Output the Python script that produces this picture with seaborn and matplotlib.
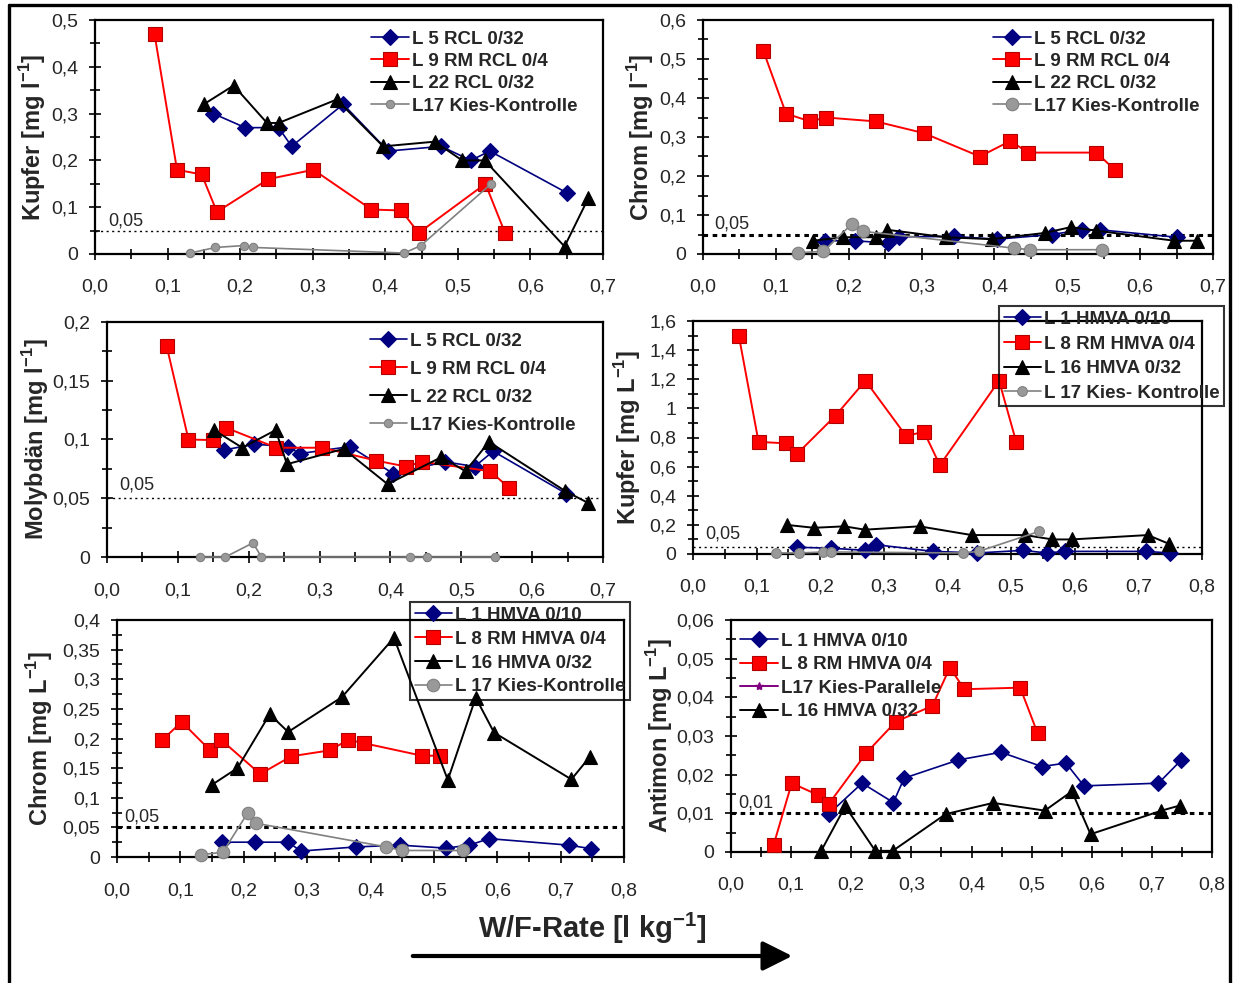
import numpy as np
import pandas as pd
import matplotlib
matplotlib.use('Agg')
import matplotlib.pyplot as plt
import matplotlib.patches as mpatches
from matplotlib.lines import Line2D
from matplotlib.ticker import MultipleLocator, FuncFormatter
import seaborn as sns

# ---- data (W/F-Rate [l/kg] vs concentration) ----
# Kupfer, RCL columns
cu_l5_x = [0.163, 0.207, 0.253, 0.271, 0.342, 0.404, 0.477, 0.518, 0.544, 0.651]
cu_l5_y = [0.30, 0.27, 0.27, 0.23, 0.32, 0.22, 0.23, 0.20, 0.22, 0.13]
cu_l9_x = [0.082, 0.113, 0.147, 0.168, 0.239, 0.301, 0.381, 0.422, 0.446, 0.538, 0.565]
cu_l9_y = [0.47, 0.18, 0.17, 0.09, 0.16, 0.18, 0.095, 0.093, 0.045, 0.15, 0.045]
cu_l22_x = [0.150, 0.191, 0.237, 0.253, 0.333, 0.397, 0.468, 0.506, 0.537, 0.647, 0.680]
cu_l22_y = [0.32, 0.36, 0.28, 0.28, 0.33, 0.23, 0.24, 0.20, 0.20, 0.016, 0.12]
cu_l17_x = [0.131, 0.166, 0.205, 0.218, 0.426, 0.449, 0.546]
cu_l17_y = [0.002, 0.014, 0.018, 0.014, 0.002, 0.018, 0.15]

# Chrom, RCL columns
cr_l5_x = [0.167, 0.208, 0.254, 0.269, 0.344, 0.404, 0.479, 0.520, 0.545, 0.650]
cr_l5_y = [0.034, 0.034, 0.028, 0.044, 0.045, 0.038, 0.050, 0.062, 0.062, 0.043]
cr_l9_x = [0.083, 0.114, 0.147, 0.169, 0.237, 0.303, 0.380, 0.422, 0.446, 0.540, 0.565]
cr_l9_y = [0.52, 0.36, 0.34, 0.35, 0.34, 0.31, 0.25, 0.29, 0.26, 0.26, 0.216]
cr_l22_x = [0.151, 0.192, 0.238, 0.253, 0.333, 0.396, 0.469, 0.505, 0.539, 0.647, 0.678]
cr_l22_y = [0.034, 0.043, 0.043, 0.062, 0.043, 0.038, 0.054, 0.069, 0.060, 0.034, 0.034]
cr_l17_x = [0.130, 0.165, 0.205, 0.220, 0.427, 0.449, 0.547]
cr_l17_y = [0.003, 0.007, 0.078, 0.058, 0.015, 0.011, 0.011]

# Molybdaen, RCL columns
mo_l5_x = [0.165, 0.208, 0.255, 0.272, 0.343, 0.404, 0.477, 0.519, 0.545, 0.648]
mo_l5_y = [0.091, 0.096, 0.094, 0.088, 0.094, 0.071, 0.081, 0.077, 0.090, 0.054]
mo_l9_x = [0.084, 0.115, 0.149, 0.168, 0.239, 0.304, 0.380, 0.422, 0.445, 0.541, 0.567]
mo_l9_y = [0.180, 0.100, 0.0995, 0.110, 0.093, 0.093, 0.082, 0.077, 0.081, 0.073, 0.059]
mo_l22_x = [0.151, 0.191, 0.238, 0.254, 0.334, 0.396, 0.472, 0.506, 0.539, 0.647, 0.679]
mo_l22_y = [0.108, 0.093, 0.108, 0.079, 0.092, 0.062, 0.085, 0.073, 0.098, 0.056, 0.046]
mo_l17_x = [0.131, 0.167, 0.206, 0.218, 0.427, 0.451, 0.547]
mo_l17_y = [0.0, 0.0, 0.012, 0.0, 0.0, 0.0, 0.0]

# Kupfer, HMVA columns
cu2_l1_x = [0.164, 0.217, 0.270, 0.287, 0.377, 0.447, 0.519, 0.556, 0.584, 0.712, 0.749]
cu2_l1_y = [0.046, 0.040, 0.025, 0.064, 0.018, 0.007, 0.025, 0.007, 0.018, 0.018, 0.007]
cu2_l8_x = [0.072, 0.103, 0.146, 0.163, 0.224, 0.271, 0.335, 0.363, 0.388, 0.481, 0.508]
cu2_l8_y = [1.50, 0.77, 0.76, 0.685, 0.95, 1.19, 0.81, 0.84, 0.61, 1.19, 0.77]
cu2_l16_x = [0.147, 0.190, 0.238, 0.270, 0.356, 0.438, 0.522, 0.565, 0.595, 0.715, 0.748]
cu2_l16_y = [0.20, 0.18, 0.19, 0.167, 0.19, 0.13, 0.13, 0.10, 0.10, 0.13, 0.07]
cu2_l17_x = [0.131, 0.167, 0.205, 0.217, 0.425, 0.449, 0.544]
cu2_l17_y = [0.007, 0.007, 0.014, 0.014, 0.007, 0.018, 0.155]

# Chrom, HMVA columns
cr2_l1_x = [0.165, 0.218, 0.270, 0.290, 0.377, 0.447, 0.519, 0.556, 0.587, 0.713, 0.748]
cr2_l1_y = [0.025, 0.025, 0.025, 0.010, 0.017, 0.020, 0.015, 0.020, 0.031, 0.020, 0.014]
cr2_l8_x = [0.071, 0.102, 0.147, 0.164, 0.226, 0.275, 0.336, 0.365, 0.390, 0.481, 0.510]
cr2_l8_y = [0.197, 0.228, 0.180, 0.198, 0.140, 0.170, 0.180, 0.198, 0.192, 0.171, 0.171]
cr2_l16_x = [0.150, 0.190, 0.241, 0.270, 0.355, 0.437, 0.522, 0.566, 0.595, 0.717, 0.746]
cr2_l16_y = [0.122, 0.150, 0.241, 0.211, 0.270, 0.370, 0.130, 0.269, 0.210, 0.131, 0.169]
cr2_l17_x = [0.133, 0.167, 0.206, 0.219, 0.425, 0.449, 0.546]
cr2_l17_y = [0.004, 0.008, 0.074, 0.057, 0.017, 0.011, 0.011]

# Antimon, HMVA columns
sb_l1_x = [0.163, 0.218, 0.270, 0.288, 0.378, 0.449, 0.517, 0.557, 0.587, 0.711, 0.749]
sb_l1_y = [0.0099, 0.0178, 0.0128, 0.0191, 0.0238, 0.0258, 0.0221, 0.0230, 0.0171, 0.0178, 0.0238]
sb_l8_x = [0.071, 0.101, 0.144, 0.163, 0.225, 0.274, 0.335, 0.364, 0.388, 0.481, 0.510]
sb_l8_y = [0.0019, 0.0178, 0.0148, 0.0125, 0.0256, 0.0337, 0.0378, 0.0477, 0.0421, 0.0425, 0.0307]
sb_l17_x = []
sb_l17_y = []
sb_l16_x = [0.150, 0.190, 0.240, 0.269, 0.357, 0.436, 0.522, 0.567, 0.598, 0.716, 0.746]
sb_l16_y = [0.0003, 0.0118, 0.0003, 0.0003, 0.0098, 0.0127, 0.0107, 0.0157, 0.0046, 0.0107, 0.0120]

rcl_labels = ['L 5 RCL 0/32', 'L 9 RM RCL 0/4', 'L 22 RCL 0/32', 'L17 Kies-Kontrolle']
hmva_labels_cu = ['L 1 HMVA 0/10', 'L 8 RM HMVA 0/4', 'L 16 HMVA 0/32', 'L 17 Kies- Kontrolle']
hmva_labels_cr = ['L 1 HMVA 0/10', 'L 8 RM HMVA 0/4', 'L 16 HMVA 0/32', 'L 17 Kies-Kontrolle']
sb_labels = ['L 1 HMVA 0/10', 'L 8 RM HMVA 0/4', 'L17 Kies-Parallele', 'L 16 HMVA 0/32']

# ---- style ----
sns.set_theme(style='white')
plt.rcParams['font.family'] = ['Liberation Sans', 'DejaVu Sans']
plt.rcParams['mathtext.fontset'] = 'custom'
plt.rcParams['mathtext.rm'] = 'Liberation Sans'
plt.rcParams['mathtext.bf'] = 'Liberation Sans:bold'

NAVY = '#000080'
RED = '#ff0000'
GRAY = '#808080'
W, H = 1236, 983

fig = plt.figure(figsize=(W / 100, H / 100), dpi=100)


def make_ax(l, t, r, b):
    return fig.add_axes([l / W, 1 - b / H, (r - l) / W, (b - t) / H])


def series(ax, x, y, kind, label, ms=None):
    styles = {
        'dia': dict(color=NAVY, marker='D', markersize=8, markeredgecolor=NAVY),
        'sq': dict(color=RED, marker='s', markersize=10, markeredgecolor='#b00000'),
        'tri': dict(color='black', marker='^', markersize=10, markeredgecolor='black'),
        'circ': dict(color=GRAY, marker='o', markersize=6, markeredgecolor=GRAY,
                     markerfacecolor='#999999'),
        'star': dict(color='#800080', marker='*', markersize=6, markeredgecolor='#800080'),
    }
    kw = dict(styles[kind])
    if ms is not None:
        kw['markersize'] = ms
    lw = 1.2 if kind in ('circ', 'dia') else 1.4
    if len(x) == 0:
        ax.plot([], [], linewidth=lw, label=label, **kw)
        return
    df = pd.DataFrame({'x': x, 'y': y})
    sns.lineplot(data=df, x='x', y='y', ax=ax, sort=False, estimator=None,
                 linewidth=lw, markeredgewidth=0.8, label=label, clip_on=False,
                 zorder=3, **kw)


def style_ax(ax, xmax, ymax, ymaj, ymin, ylabel, label_x, thr, thr_txt, thr_pos, thr_style):
    ax.set_xlim(0, xmax)
    ax.set_ylim(0, ymax)
    ax.xaxis.set_major_locator(MultipleLocator(0.1))
    ax.xaxis.set_minor_locator(MultipleLocator(0.05))
    ax.yaxis.set_major_locator(MultipleLocator(ymaj))
    ax.yaxis.set_minor_locator(MultipleLocator(ymin))
    ax.xaxis.set_major_formatter(FuncFormatter(lambda v, p: f'{v:.1f}'.replace('.', ',')))
    ax.yaxis.set_major_formatter(FuncFormatter(
        lambda v, p: '0' if abs(v) < 1e-9 else f'{round(v, 4):g}'.replace('.', ',')))
    ax.tick_params(which='both', direction='inout', color='black', width=1.2,
                   labelsize=14, bottom=True, left=True)
    ax.tick_params(which='major', length=8)
    ax.tick_params(which='minor', length=7)
    ax.tick_params(axis='x', which='major', pad=14)
    ax.tick_params(axis='y', which='major', pad=8)
    for s in ax.spines.values():
        s.set_color('black')
        s.set_linewidth(1.6)
    ax.set_xlabel('')
    ax.set_ylabel(ylabel, fontsize=17, fontweight='bold')
    ax.yaxis.set_label_coords(label_x, 0.5)
    ls, lw = thr_style
    ax.axhline(thr, color='black', linestyle=ls, linewidth=lw, zorder=1)
    ax.text(thr_pos[0], thr_pos[1], thr_txt, fontsize=13, va='bottom', ha='left')


def legend(ax, anchor, spacing, framed=False):
    h, l = ax.get_legend_handles_labels()
    leg = ax.legend(h, l, loc='upper left', bbox_to_anchor=anchor, frameon=framed,
                    prop={'weight': 'bold', 'size': 13.5}, handlelength=2.0,
                    handletextpad=0.15, labelspacing=spacing, borderaxespad=0,
                    borderpad=0.25, numpoints=1, fancybox=False)
    if framed:
        leg.get_frame().set_edgecolor('black')
        leg.get_frame().set_linewidth(1.5)
        leg.get_frame().set_facecolor('none')
    leg.set_zorder(5)


dotted_thin = ((0, (1.5, 2.5)), 1.0)
dotted_bold = ((0, (1.5, 1.5)), 2.2)

# panel 1: Kupfer RCL
ax1 = make_ax(95, 20, 603, 254)
series(ax1, cu_l5_x, cu_l5_y, 'dia', rcl_labels[0])
series(ax1, cu_l9_x, cu_l9_y, 'sq', rcl_labels[1])
series(ax1, cu_l22_x, cu_l22_y, 'tri', rcl_labels[2])
series(ax1, cu_l17_x, cu_l17_y, 'circ', rcl_labels[3])
style_ax(ax1, 0.7, 0.5, 0.1, 0.05, r'Kupfer [mg l$^{\mathbf{-1}}$]', -0.092,
         0.05, '0,05', (0.018, 0.053), dotted_thin)
legend(ax1, (0.535, 0.975), 0.28)

# panel 2: Chrom RCL
ax2 = make_ax(703, 20, 1213, 254)
series(ax2, cr_l5_x, cr_l5_y, 'dia', rcl_labels[0])
series(ax2, cr_l9_x, cr_l9_y, 'sq', rcl_labels[1])
series(ax2, cr_l22_x, cr_l22_y, 'tri', rcl_labels[2])
series(ax2, cr_l17_x, cr_l17_y, 'circ', rcl_labels[3], ms=9)
style_ax(ax2, 0.7, 0.6, 0.1, 0.05, r'Chrom [mg l$^{\mathbf{-1}}$]', -0.092,
         0.05, '0,05', (0.015, 0.056), dotted_bold)
legend(ax2, (0.56, 0.975), 0.28)

# panel 3: Molybdaen RCL
ax3 = make_ax(107, 322, 603, 557)
series(ax3, mo_l5_x, mo_l5_y, 'dia', rcl_labels[0])
series(ax3, mo_l9_x, mo_l9_y, 'sq', rcl_labels[1])
series(ax3, mo_l22_x, mo_l22_y, 'tri', rcl_labels[2])
series(ax3, mo_l17_x, mo_l17_y, 'circ', rcl_labels[3])
style_ax(ax3, 0.7, 0.2, 0.05, 0.025, r'Molybdän [mg l$^{\mathbf{-1}}$]', -0.113,
         0.05, '0,05', (0.017, 0.054), dotted_thin)
legend(ax3, (0.52, 0.975), 0.58)

# panel 4: Kupfer HMVA
ax4 = make_ax(693, 321, 1202, 554)
series(ax4, cu2_l1_x, cu2_l1_y, 'dia', hmva_labels_cu[0])
series(ax4, cu2_l8_x, cu2_l8_y, 'sq', hmva_labels_cu[1])
series(ax4, cu2_l16_x, cu2_l16_y, 'tri', hmva_labels_cu[2])
series(ax4, cu2_l17_x, cu2_l17_y, 'circ', hmva_labels_cu[3], ms=7)
style_ax(ax4, 0.8, 1.6, 0.2, 0.1, r'Kupfer [mg L$^{\mathbf{-1}}$]', -0.098,
         0.05, '0,05', (0.02, 0.08), dotted_thin)
legend(ax4, (0.601, 1.064), 0.40, framed=True)

# panel 5: Chrom HMVA
ax5 = make_ax(117, 620, 624, 857)
series(ax5, cr2_l1_x, cr2_l1_y, 'dia', hmva_labels_cr[0])
series(ax5, cr2_l8_x, cr2_l8_y, 'sq', hmva_labels_cr[1])
series(ax5, cr2_l16_x, cr2_l16_y, 'tri', hmva_labels_cr[2])
series(ax5, cr2_l17_x, cr2_l17_y, 'circ', hmva_labels_cr[3], ms=9)
style_ax(ax5, 0.8, 0.4, 0.05, 0.025, r'Chrom [mg L$^{\mathbf{-1}}$]', -0.122,
         0.05, '0,05', (0.011, 0.054), dotted_bold)
legend(ax5, (0.578, 1.076), 0.36, framed=True)

# panel 6: Antimon HMVA
ax6 = make_ax(731, 620, 1212, 852)
series(ax6, sb_l1_x, sb_l1_y, 'dia', sb_labels[0])
series(ax6, sb_l8_x, sb_l8_y, 'sq', sb_labels[1])
series(ax6, sb_l17_x, sb_l17_y, 'star', sb_labels[2])
series(ax6, sb_l16_x, sb_l16_y, 'tri', sb_labels[3])
style_ax(ax6, 0.8, 0.06, 0.01, 0.005, r'Antimon [mg L$^{\mathbf{-1}}$]', -0.116,
         0.01, '0,01', (0.012, 0.0105), dotted_bold)
legend(ax6, (0.01, 0.965), 0.34)

# common x label and arrow
fig.text(592 / W, 1 - 928 / H, r'W/F-Rate [l kg$^{\mathbf{-1}}$]', fontsize=21,
         fontweight='bold', ha='center', va='center')
arrow = mpatches.FancyArrowPatch(
    (410 / W, 1 - 956 / H), (795 / W, 1 - 956 / H), transform=fig.transFigure,
    arrowstyle=mpatches.ArrowStyle('-|>', head_length=0.6, head_width=0.3),
    mutation_scale=30, linewidth=3, color='black')
fig.add_artist(arrow)

# outer frame (left, top, right)
for xs, ys in [([9, 9], [5, H]), ([9, 1230], [5, 5]), ([1230, 1230], [5, H])]:
    fig.add_artist(Line2D([x / W for x in xs], [1 - y / H for y in ys],
                          transform=fig.transFigure, color='black', linewidth=2.4))

fig.savefig('out.png', dpi=100)
